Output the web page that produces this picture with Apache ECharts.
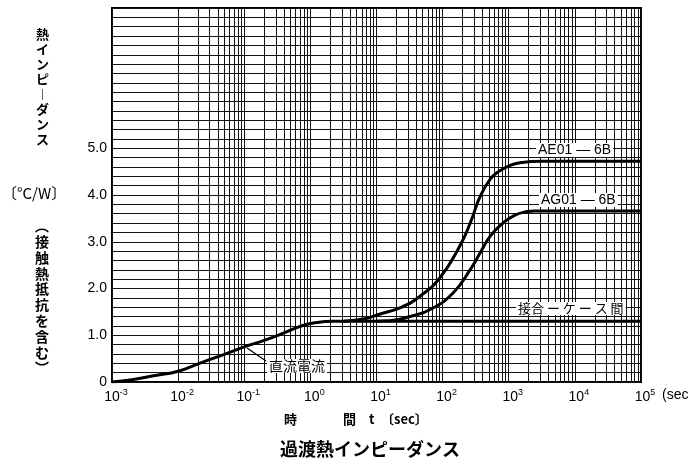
<!DOCTYPE html>
<html><head><meta charset="utf-8">
<script src="https://cdn.jsdelivr.net/npm/echarts@6/dist/echarts.min.js"></script>
<style>html,body{margin:0;padding:0;background:#fff}#c{width:691px;height:472px}</style>
</head><body><div id="c"></div>
<script>
// time t (sec) and transient thermal impedance (°C/W)
const commonT = [0.001, 0.002, 0.0045, 0.01, 0.022, 0.05, 0.1, 0.2, 0.4, 0.7, 1.1, 2.2, 10, 100, 1000, 10000, 100000];
const commonZ = [0, 0.05, 0.14, 0.23, 0.41, 0.59, 0.75, 0.89, 1.05, 1.19, 1.26, 1.30, 1.30, 1.30, 1.30, 1.30, 1.30];
const aeT = [3.2, 7, 11, 23, 46, 91, 182, 263, 372, 525, 700, 1000, 1480, 3200, 10000, 100000];
const aeZ = [1.30, 1.36, 1.45, 1.59, 1.84, 2.23, 2.91, 3.41, 3.98, 4.34, 4.50, 4.62, 4.69, 4.72, 4.72, 4.72];
const agT = [10, 16, 32, 65, 145, 263, 372, 525, 832, 1200, 1800, 2500, 10000, 100000];
const agZ = [1.30, 1.31, 1.40, 1.55, 1.91, 2.41, 2.77, 3.12, 3.41, 3.56, 3.64, 3.66, 3.66, 3.66];
const xTickExp = [-3, -2, -1, 0, 1, 2, 3, 4, 5];
const yTickLabels = ['0', '1.0', '2.0', '3.0', '4.0', '5.0'];
const minorMult = [2, 3, 4, 5, 6, 7, 8, 9];

const chart = echarts.init(document.getElementById('c'));
const pairs = (xs, ys) => xs.map((x, i) => [x, ys[i]]);
const minorLines = [];
for (let d = xTickExp[0]; d < xTickExp[xTickExp.length - 1]; d++) {
  minorMult.forEach(m => minorLines.push({ xAxis: m * Math.pow(10, d) }));
}
const gridColor = '#111';
const curveStyle = { color: '#000', width: 3 };

chart.setOption({
  animation: false,
  backgroundColor: '#fff',
  grid: { left: 112, right: 50, top: 8, bottom: 90, show: true, borderColor: '#000', borderWidth: 2 },
  xAxis: {
    type: 'log', logBase: 10, min: 0.001, max: 100000,
    axisLine: { show: false }, axisTick: { show: false },
    splitLine: { show: true, lineStyle: { color: gridColor, width: 1 } },
    axisLabel: {
      margin: 6, padding: [0, 0, 0, 8], color: '#000',
      formatter: v => '{b|10}{s|' + Math.round(Math.log10(v)) + '}',
      rich: {
        b: { fontSize: 14, fontFamily: 'Liberation Sans', color: '#000', lineHeight: 16, verticalAlign: 'bottom' },
        s: { fontSize: 9, fontFamily: 'Liberation Sans', color: '#000', lineHeight: 16, verticalAlign: 'top' }
      }
    }
  },
  yAxis: {
    type: 'value', min: 0, max: 8, interval: 0.2,
    axisLine: { show: false }, axisTick: { show: false },
    splitLine: { show: true, lineStyle: { color: gridColor, width: 1 } },
    axisLabel: {
      margin: 5, color: '#000', fontSize: 14, fontFamily: 'Liberation Sans',
      formatter: v => { const i = Math.round(v); return (Math.abs(v - i) < 1e-6 && i < yTickLabels.length) ? yTickLabels[i] : ''; }
    }
  },
  series: [
    { type: 'line', data: [[0.001, 0]], showSymbol: false, silent: true, lineStyle: { opacity: 0 }, z: 1,
      markLine: { silent: true, symbol: 'none', label: { show: false }, animation: false,
        lineStyle: { color: gridColor, width: 1, type: 'solid' }, data: minorLines } },
    { type: 'line', data: pairs(commonT, commonZ), smooth: 0.5, showSymbol: false, lineStyle: curveStyle, z: 5 },
    { type: 'line', data: pairs(aeT, aeZ), smooth: 0.5, showSymbol: false, lineStyle: curveStyle, z: 5 },
    { type: 'line', data: pairs(agT, agZ), smooth: 0.5, showSymbol: false, lineStyle: curveStyle, z: 5 }
  ],
  graphic: [
    { type: 'text', left: 36, top: 27, z: 10, style: { text: ['熱','イ','ン','ピ','︱','ダ','ン','ス'].join('\n'), font: 'bold 13px "Noto Sans CJK JP"', lineHeight: 15, fill: '#000', align: 'center' } },
    { type: 'text', left: 2, top: 186, z: 10, style: { text: '〔°C/W〕', font: '15px "Noto Sans CJK JP"', fill: '#000' } },
    { type: 'text', left: 35, top: 218, z: 10, style: { text: ['︵','接','触','熱','抵','抗','を','含','む','︶'].join('\n'), font: 'bold 14px "Noto Sans CJK JP"', lineHeight: 15.8, fill: '#000', align: 'center' } },
    { type: 'text', left: 662, top: 388, z: 10, style: { text: '(sec', font: '14px "Liberation Sans"', fill: '#000' } },
    { type: 'text', left: 284, top: 413, z: 10, style: { text: '時', font: 'bold 13px "Noto Sans CJK JP"', fill: '#000' } },
    { type: 'text', left: 343, top: 413, z: 10, style: { text: '間　t　〔sec〕', font: 'bold 13px "Noto Sans CJK JP"', fill: '#000' } },
    { type: 'text', left: 280, top: 440, z: 10, style: { text: '過渡熱インピーダンス', font: 'bold 18px "Noto Sans CJK JP"', fill: '#000' } },
    { type: 'text', left: 536, top: 143, z: 10, style: { text: 'AE01 — 6B', font: '14px "Liberation Sans"', fill: '#000', backgroundColor: '#fff', padding: [0, 2] } },
    { type: 'text', left: 539, top: 193, z: 10, style: { text: 'AG01 — 6B', font: '14px "Liberation Sans"', fill: '#000', backgroundColor: '#fff', padding: [0, 2] } },
    { type: 'text', left: 516, top: 302, z: 10, style: { text: '接合 ー ケ ー ス 間', font: '13px "Noto Sans CJK JP"', fill: '#000', backgroundColor: '#fff', padding: [0, 2] } },
    { type: 'text', left: 267, top: 359, z: 10, style: { text: '直流電流', font: '14px "Noto Sans CJK JP"', fill: '#000', backgroundColor: '#fff', padding: [0, 2] } },
    { type: 'line', z: 10, shape: { x1: 247, y1: 348, x2: 266, y2: 361 }, style: { stroke: '#000', lineWidth: 1.2 } }
  ]
});
</script></body></html>
